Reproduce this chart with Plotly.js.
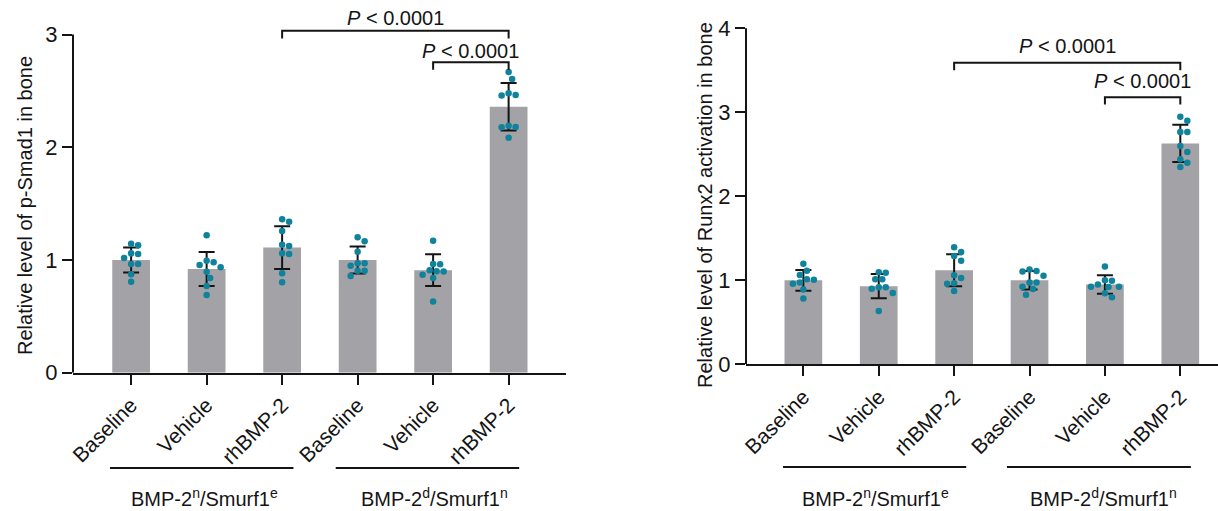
<!DOCTYPE html>
<html>
<head>
<meta charset="utf-8">
<script src="https://cdn.plot.ly/plotly-3.0.1.min.js"></script>
<style>
  html, body { margin: 0; padding: 0; background: #fff; }
  #chart { width: 1218px; height: 511px; }
</style>
</head>
<body>
<div id="chart"></div>
<script>
// Treatment labels along each x axis and the two genotype groups beneath them
const treatments = ['Baseline', 'Vehicle', 'rhBMP-2', 'Baseline', 'Vehicle', 'rhBMP-2'];
const groupNames = ['BMP-2<sup>n</sup>/Smurf1<sup>e</sup>', 'BMP-2<sup>d</sup>/Smurf1<sup>n</sup>'];
const pLabel = '<i>P</i> &lt; 0.0001';

// p-Smad1 in bone: group means, SD and individual animals
const smadMean = [1.00, 0.92, 1.11, 1.00, 0.91, 2.36];
const smadSD = [0.11, 0.15, 0.19, 0.12, 0.14, 0.21];
const smadPoints = [
  [1.145, 1.130, 1.059, 1.053, 1.018, 0.965, 0.965, 0.873, 0.807],
  [1.219, 0.994, 0.979, 0.956, 0.935, 0.896, 0.840, 0.770, 0.689],
  [1.361, 1.340, 1.257, 1.136, 1.124, 1.059, 1.053, 0.882, 0.802],
  [1.201, 1.166, 1.074, 0.971, 0.971, 0.950, 0.905, 0.905, 0.858],
  [1.171, 0.965, 0.962, 0.909, 0.900, 0.897, 0.870, 0.841, 0.631],
  [2.668, 2.606, 2.479, 2.464, 2.460, 2.192, 2.180, 2.177, 2.085]
];

// Runx2 activation in bone: group means, SD and individual animals
const runxMean = [1.00, 0.93, 1.12, 1.00, 0.95, 2.63];
const runxSD = [0.123, 0.145, 0.19, 0.11, 0.11, 0.222];
const runxPoints = [
  [1.198, 1.115, 1.063, 1.012, 1.008, 0.973, 0.960, 0.889, 0.782],
  [1.095, 1.091, 1.012, 1.012, 0.917, 0.917, 0.900, 0.849, 0.635],
  [1.393, 1.337, 1.290, 1.234, 1.060, 1.028, 0.964, 0.960, 0.873],
  [1.128, 1.112, 1.104, 1.053, 0.974, 0.974, 0.923, 0.896, 0.829],
  [1.163, 1.002, 0.994, 0.950, 0.923, 0.923, 0.920, 0.845, 0.798],
  [2.948, 2.900, 2.765, 2.765, 2.599, 2.527, 2.440, 2.400, 2.349]
];

const W = 1218, H = 511;
const FONT = 'Arial, Liberation Sans, sans-serif';
const INK = '#141414';
const BAR = '#a2a2a7';
const DOT = '#10829b';

// Pixel frame of each panel (left/right edge of the x axis, y of the baseline and top)
const panels = [
  {
    xa: 'x', ya: 'y', xd: [73, 566], base: 372.7, top: 6.4,
    xr: [-0.77, 5.76], yr: [0, 3.25], yTop: 3,
    title: 'Relative level of p-Smad1 in bone', titleAt: [25, 206],
    mean: smadMean, sd: smadSD, pts: smadPoints,
    brackets: [
      { a: 2, b: 5, y: 3.035, drop: 0.07, ty: 3.15 },
      { a: 4, b: 5, y: 2.754, drop: 0.065, ty: 2.85 }
    ],
    groupLineY: 468, groups: [[-0.28, 2.15, 0.97], [2.71, 5.14, 4.02]]
  },
  {
    xa: 'x2', ya: 'y2', xd: [746, 1218], base: 364.3, top: 3.1,
    xr: [-0.761, 5.5], yr: [0, 4.3], yTop: 4,
    title: 'Relative level of Runx2 activation in bone', titleAt: [705, 205],
    mean: runxMean, sd: runxSD, pts: runxPoints,
    brackets: [
      { a: 2, b: 5, y: 3.59, drop: 0.09, ty: 3.79 },
      { a: 4, b: 5, y: 3.178, drop: 0.085, ty: 3.37 }
    ],
    groupLineY: 467, groups: [[-0.27, 2.16, 0.96], [2.70, 5.14, 3.98]]
  }
];

// Spread the animals of one group sideways so dots do not overlap
function swarm(vals, centre, pxX, pxY, d) {
  const order = vals.map((v, i) => i).sort((a, b) => vals[b] - vals[a]);
  const placed = [];
  const xs = new Array(vals.length);
  order.forEach(i => {
    const yp = vals[i] * pxY;
    let off = 0;
    for (let k = 0; k < 60; k++) {
      const cand = k === 0 ? 0 : (k % 2 ? 1 : -1) * Math.ceil(k / 2) * d * 0.5;
      if (placed.every(p => Math.hypot(p.x - cand, p.y - yp) >= d)) { off = cand; break; }
    }
    placed.push({ x: off, y: yp });
    xs[i] = centre + off / pxX;
  });
  return xs;
}

const idx = treatments.map((t, i) => i);
const traces = [];
const shapes = [];
const annotations = [];
const layout = {
  width: W, height: H,
  margin: { l: 0, r: 0, t: 0, b: 0 },
  paper_bgcolor: '#fff', plot_bgcolor: 'rgba(0,0,0,0)',
  showlegend: false,
  font: { family: FONT, size: 20, color: INK },
  shapes: shapes, annotations: annotations
};

panels.forEach(p => {
  const pxX = (p.xd[1] - p.xd[0]) / (p.xr[1] - p.xr[0]);
  const pxY = (p.base - p.top) / (p.yr[1] - p.yr[0]);
  const xName = p.xa === 'x' ? 'xaxis' : 'xaxis2';
  const yName = p.ya === 'y' ? 'yaxis' : 'yaxis2';

  layout[xName] = {
    domain: [p.xd[0] / W, p.xd[1] / W],
    anchor: p.ya,
    range: p.xr,
    tickmode: 'array', tickvals: idx, ticktext: treatments,
    tickangle: -45,
    ticks: 'outside', ticklen: 10, tickwidth: 2, tickcolor: INK,
    showline: true, linewidth: 2, linecolor: INK,
    showgrid: false, zeroline: false,
    tickfont: { family: FONT, size: 21, color: INK },
    fixedrange: true
  };
  layout[yName] = {
    domain: [(H - p.base) / H, (H - p.top) / H],
    anchor: p.xa,
    range: p.yr,
    tickmode: 'array', tickvals: Array.from({ length: p.yTop + 1 }, (v, i) => i),
    ticks: 'outside', ticklen: 10, tickwidth: 2, tickcolor: INK,
    showline: false, showgrid: false, zeroline: false,
    tickfont: { family: FONT, size: 22, color: INK },
    fixedrange: true
  };

  traces.push({
    type: 'bar', x: idx, y: p.mean, width: 0.5,
    xaxis: p.xa, yaxis: p.ya,
    marker: { color: BAR, line: { width: 0 } },
    error_y: { type: 'data', array: p.sd, visible: true, color: INK, thickness: 2, width: 8 },
    hoverinfo: 'skip'
  });

  const dx = [], dy = [];
  p.pts.forEach((vals, g) => {
    swarm(vals, g, pxX, pxY, 7).forEach((x, k) => { dx.push(x); dy.push(vals[k]); });
  });
  traces.push({
    type: 'scatter', mode: 'markers', x: dx, y: dy,
    xaxis: p.xa, yaxis: p.ya, cliponaxis: false,
    marker: { size: 6.5, color: DOT, line: { width: 0 } },
    hoverinfo: 'skip'
  });

  // vertical axis line stops at the last tick
  shapes.push({
    type: 'line', xref: p.xa + ' domain', yref: p.ya,
    x0: 0, x1: 0, y0: 0, y1: p.yTop,
    line: { color: INK, width: 2 }
  });

  // y-axis title, centred on the drawn axis
  annotations.push({
    xref: 'paper', yref: 'paper',
    x: p.titleAt[0] / W, y: (H - p.titleAt[1]) / H,
    text: p.title, textangle: -90, showarrow: false,
    xanchor: 'center', yanchor: 'middle',
    font: { family: FONT, size: 20, color: INK }
  });

  // significance brackets
  p.brackets.forEach(b => {
    shapes.push({
      type: 'path', xref: p.xa, yref: p.ya,
      path: `M ${b.a} ${b.y - b.drop} L ${b.a} ${b.y} L ${b.b} ${b.y} L ${b.b} ${b.y - b.drop}`,
      line: { color: INK, width: 2 }
    });
    annotations.push({
      xref: p.xa, yref: p.ya, x: (b.a + b.b) / 2, y: b.ty,
      text: pLabel, showarrow: false, xanchor: 'center', yanchor: 'middle',
      font: { family: FONT, size: 20, color: INK }
    });
  });

  // genotype group rules and labels under the treatment labels
  p.groups.forEach((g, gi) => {
    shapes.push({
      type: 'line', xref: p.xa, yref: 'paper',
      x0: g[0], x1: g[1], y0: (H - p.groupLineY) / H, y1: (H - p.groupLineY) / H,
      line: { color: INK, width: 2 }
    });
    annotations.push({
      xref: p.xa, yref: 'paper', x: g[2], y: (H - 497) / H,
      text: groupNames[gi], showarrow: false, xanchor: 'center', yanchor: 'middle',
      font: { family: FONT, size: 20, color: INK }
    });
  });
});

Plotly.newPlot('chart', traces, layout, { displayModeBar: false, staticPlot: true });
</script>
</body>
</html>
